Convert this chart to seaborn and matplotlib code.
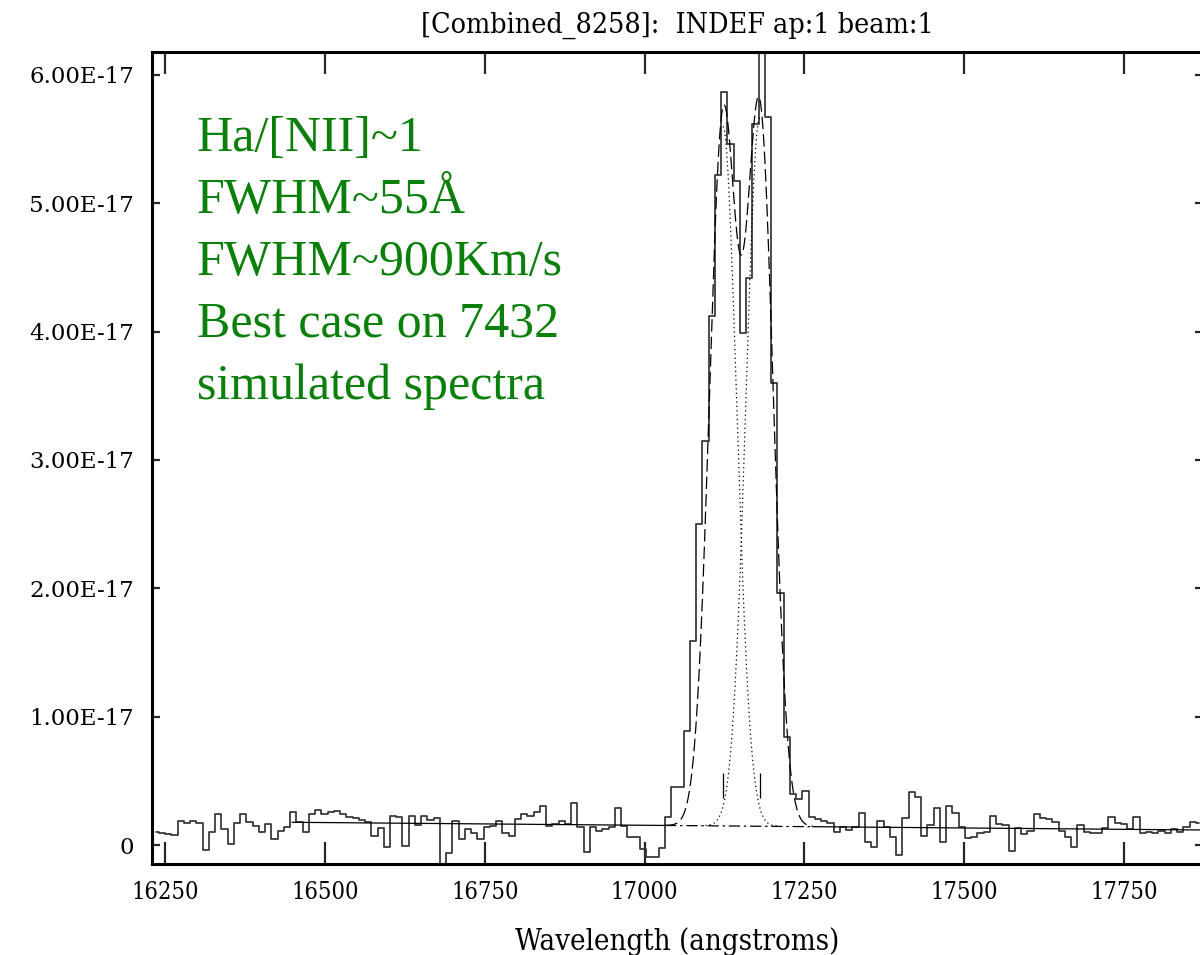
import numpy as np
import matplotlib
matplotlib.use("Agg")
import matplotlib.pyplot as plt
import seaborn as sns
from matplotlib.ticker import FuncFormatter, FixedLocator
from matplotlib import font_manager

# ---------------- data (flux in units of 1e-17) ----------------
wave_start = 16235.5          # centre of first bin (angstrom)
wave_step = 9.77              # bin width (angstrom)
flux = [
    0.100, 0.095, 0.088, 0.078, 0.190, 0.169, 0.190, 0.169, -0.039, 0.099,
    0.239, 0.122, 0.005, 0.169, 0.239, 0.177, 0.150, 0.099, 0.161, 0.044,
    0.112, 0.143, 0.255, 0.177, 0.101, 0.239, 0.273, 0.239, 0.260, 0.268,
    0.239, 0.221, 0.208, 0.195, 0.182, 0.073, 0.130, -0.013, 0.229, 0.221,
    -0.008, 0.229, 0.156, 0.229, 0.195, 0.208, -0.300, -0.065, 0.190, 0.047,
    0.125, 0.091, 0.047, 0.143, 0.148, 0.190, 0.091, 0.073, 0.200, 0.239,
    0.229, 0.255, 0.304, 0.148, 0.161, 0.190, 0.164, 0.325, 0.143, -0.052,
    0.143, 0.112, 0.125, 0.143, 0.291, 0.148, 0.065, 0.065, -0.030, -0.090,
    -0.090, -0.020, 0.216, 0.450, 0.450, 0.890, 1.590, 2.500, 3.150, 4.120,
    5.220, 5.870, 5.460, 5.170, 3.990, 4.420, 5.620, 6.600, 5.670, 3.600,
    1.960, 0.840, 0.395, 0.356, 0.420, 0.216, 0.200, 0.190, 0.169, 0.099,
    0.138, 0.117, 0.143, 0.247, 0.026, -0.013, 0.190, 0.143, 0.065, -0.078,
    0.208, 0.416, 0.372, 0.070, 0.156, 0.291, 0.021, 0.306, 0.252, 0.143,
    0.052, 0.065, 0.091, 0.104, 0.229, 0.164, 0.156, -0.047, 0.135, 0.083,
    0.109, 0.239, 0.213, 0.203, 0.182, 0.109, 0.065, -0.013, 0.156, 0.104,
    0.096, 0.091, 0.130, 0.221, 0.169, 0.164, 0.125, 0.221, 0.091, 0.104,
    0.091, 0.109, 0.096, 0.122, 0.104, 0.143, 0.182, 0.169,
]
flux_scale = 1e-17

# continuum fit (linear), in 1e-17 units
cont_wave = [16448.6, 17873.0]
cont_flux = [0.177, 0.117]
fit_range = [17032.0, 17263.0]

# two gaussian components (deblend)
line_centers = [17122.5, 17180.0]
line_amps = [5.45, 5.52]
line_sigmas = [21.4, 21.4]
center_mark = [0.37, 0.56]

xticks = [16250, 16500, 16750, 17000, 17250, 17500, 17750]
yticks = [0, 1, 2, 3, 4, 5, 6]

title = "[Combined_8258]:  INDEF ap:1 beam:1"
xlabel = "Wavelength (angstroms)"
notes = ["Ha/[NII]~1", "FWHM~55\u00c5", "FWHM~900Km/s",
         "Best case on 7432", "simulated spectra"]

# ---------------- style ----------------
sns.set_style("ticks")
plt.rcParams["font.family"] = ["DejaVu Serif"]

names = {(f.name, f.stretch) for f in font_manager.fontManager.ttflist}
have_cond = any(n == "DejaVu Serif" and s == "condensed" for n, s in names)
cond_kw = dict(family="DejaVu Serif", stretch="condensed") if have_cond else dict(family="Liberation Serif")

fig = plt.figure(figsize=(12, 9.55), dpi=100)
ax = fig.add_axes([152 / 1200, 1 - 864 / 955, (1203 - 152) / 1200, (864 - 52) / 955])

wave = wave_start + wave_step * np.arange(len(flux))
flux_arr = np.asarray(flux) * flux_scale

sns.lineplot(x=wave, y=flux_arr, ax=ax, drawstyle="steps-mid", estimator=None,
             color="#333333", linewidth=1.25, sort=False)

def cont(w):
    w = np.asarray(w)
    return cont_flux[0] + (w - cont_wave[0]) * (cont_flux[1] - cont_flux[0]) / (cont_wave[1] - cont_wave[0])

def gauss(w, i):
    return line_amps[i] * np.exp(-0.5 * ((w - line_centers[i]) / line_sigmas[i]) ** 2)

# continuum: solid outside fit region, dash-dot inside
for a, b, ls in [(cont_wave[0], fit_range[0], "-"), (fit_range[0], fit_range[1], (0, (9, 3, 2, 3))),
                 (fit_range[1], cont_wave[1], "-")]:
    w = np.linspace(a, b, 200)
    sns.lineplot(x=w, y=cont(w) * flux_scale, ax=ax, color="black", linewidth=0.9,
                 linestyle=ls, estimator=None, sort=False)

# total fit (dashed)
wf = np.linspace(fit_range[0], fit_range[1], 600)
total = cont(wf) + gauss(wf, 0) + gauss(wf, 1)
sns.lineplot(x=wf, y=total * flux_scale, ax=ax, color="black", linewidth=0.9,
             linestyle=(0, (10, 4)), estimator=None, sort=False)

# individual components (dotted, inner halves)
w0 = np.linspace(line_centers[0], line_centers[0] + 85, 200)
sns.lineplot(x=w0, y=(cont(w0) + gauss(w0, 0)) * flux_scale, ax=ax, color="black",
             linewidth=0.9, linestyle=(0, (1, 2.5)), estimator=None, sort=False)
w1 = np.linspace(line_centers[1] - 85, line_centers[1], 200)
sns.lineplot(x=w1, y=(cont(w1) + gauss(w1, 1)) * flux_scale, ax=ax, color="black",
             linewidth=0.9, linestyle=(0, (1, 2.5)), estimator=None, sort=False)

# line centre markers
ax.vlines(line_centers, center_mark[0] * flux_scale, center_mark[1] * flux_scale,
          color="black", linewidth=0.9)

# ---------------- axes ----------------
ax.set_xlim(16229.7, 17873.2)
ax.set_ylim(-0.148e-17, 6.179e-17)
for s in ax.spines.values():
    s.set_linewidth(2.2)
    s.set_color("black")
ax.xaxis.set_major_locator(FixedLocator(xticks))
ax.yaxis.set_major_locator(FixedLocator([v * flux_scale for v in yticks]))
ax.minorticks_off()
ax.tick_params(axis="x", which="major", direction="in", length=16, width=1.6,
               top=True, bottom=True, pad=12)
ax.tick_params(axis="y", which="major", direction="in", length=6, width=1.6,
               left=True, right=True, pad=13)
ax.yaxis.set_major_formatter(FuncFormatter(lambda v, p: "0" if abs(v) < 1e-30 else f"{v:.2E}"))
for lab in ax.get_xticklabels():
    lab.set_fontproperties(font_manager.FontProperties(size=17, **cond_kw))
    lab.set_color("black")
for lab in ax.get_yticklabels():
    lab.set_fontproperties(font_manager.FontProperties(family="DejaVu Serif", size=16.5))
    lab.set_color("black")

ax.set_title(title, fontsize=20.5, pad=14, color="black", **cond_kw)
ax.set_xlabel(xlabel, fontsize=21, labelpad=17, color="black", **cond_kw)
ax.set_ylabel("")

fig.text(197 / 1200, 1 - 116 / 955, "\n".join(notes), color="#0a7f0a",
         fontsize=36, family="Liberation Serif", va="top", ha="left", linespacing=1.43)

fig.savefig("out.png", dpi=100)
